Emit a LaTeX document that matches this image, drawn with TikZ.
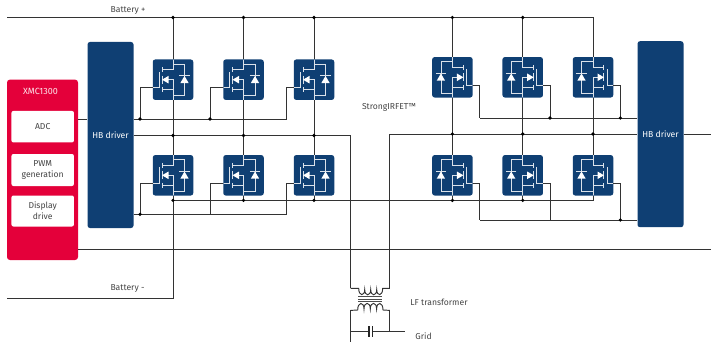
\documentclass[tikz,border=0pt]{standalone}
\usepackage{fontspec}
\setmainfont{Fira Sans}
\usepackage{tikz}
\usetikzlibrary{calc}
\definecolor{ifxblue}{HTML}{0F3F73}
\definecolor{ifxred}{HTML}{E4003A}
\definecolor{labelgray}{HTML}{444444}

\begin{document}
\begin{tikzpicture}[x=1pt, y=-1pt, >=stealth,
        wire/.style={line width=0.95pt, black!80},
        fetbox/.style={draw=none, fill=ifxblue, rounded corners=2.5pt, minimum width=40.5pt, minimum height=40.5pt, inner sep=0pt},
        fetline/.style={line width=0.8pt, white!85!ifxblue},
        drvbox/.style={fill=ifxblue, rounded corners=2.5pt, minimum width=46pt, minimum height=186pt, inner sep=0pt, text=white, font=\fontsize{8.6}{10}\selectfont},
        funcbox/.style={fill=white, rounded corners=2pt, minimum width=62.5pt, text=labelgray, align=center, inner sep=0pt, font=\fontsize{8.6}{11}\selectfont},
        lbl/.style={text=labelgray, inner sep=0pt, font=\fontsize{8.6}{10}\selectfont},
        mirrored/.style={xscale=-1},
        mosfet/.pic={
            \node[fetbox] (box) at (0,0) {};
            \coordinate (gate) at (-20.2,8.2);
            % Drain, source and gate
            \draw[fetline] (0,-20) -- (0,-10) -- (-10.7,-10);
            \draw[fetline] (-10.7,-12.5) -- (-10.7,-7.5);
            \draw[fetline] (-10.7,-4) -- (-10.7,4);
            \draw[fetline] (-10.7,7.5) -- (-10.7,12.5);
            \draw[fetline] (-10.7,10) -- (0,10);
            \draw[fetline] (-5,0) -- (0,0) -- (0,20);
            \draw[fetline] (-20,8.2) -- (-14,8.2) -- (-14,-8);
            \fill[white] (-11,0) -- (-4.5,-3.8) -- (-4.5,3.8) -- cycle;
            % Body diode
            \draw[fetline] (0,-15.7) -- (11.5,-15.7) -- (11.5,16) -- (0,16);
            \draw[fetline] (6.3,-3.8) -- (16.7,-3.8);
            \fill[white] (11.5,-3.8) -- (7.3,3.4) -- (15.7,3.4) -- cycle;
        }]
        \useasboundingbox (0,0) rectangle (711,342);

        % Controller
        \node[fill=ifxred, rounded corners=3pt, minimum width=71pt, minimum height=180.5pt, inner sep=0pt] (XMC) at (42.5,169.8) {};
        \node[text=white!90!ifxred, inner sep=0pt, font=\fontsize{9}{10}\selectfont] (XMCt) at (40.5,91) {XMC1300};
        \node[funcbox, minimum height=31.5pt] (ADC) at (42.7,126.7) {ADC};
        \node[funcbox, minimum height=32pt] (PWM) at (42.7,170) {PWM\\generation};
        \node[funcbox, minimum height=31pt] (DISP) at (42.7,211) {Display\\drive};

        % Drivers
        \node[drvbox] (HBL) at (110.5,135) {HB driver};
        \node[drvbox] (HBR) at (660.5,134.2) {HB driver};

        % Switches
        \pic (Q1) at (173,79.7) {mosfet};
        \pic (Q2) at (243.5,79.7) {mosfet};
        \pic (Q3) at (314,79.7) {mosfet};
        \pic (Q7) at (173,175.3) {mosfet};
        \pic (Q8) at (243.5,175.3) {mosfet};
        \pic (Q9) at (314,175.3) {mosfet};
        \pic[mirrored] (Q4) at (452.4,77.3) {mosfet};
        \pic[mirrored] (Q5) at (522.7,77.3) {mosfet};
        \pic[mirrored] (Q6) at (593,77.3) {mosfet};
        \pic[mirrored] (Q10) at (452.4,175.3) {mosfet};
        \pic[mirrored] (Q11) at (522.7,175.3) {mosfet};
        \pic[mirrored] (Q12) at (593,175.3) {mosfet};

        % Define coordinates
        \coordinate (BatA) at (7,17.5);
        \coordinate (BatB) at (7,298.2);
        \coordinate (GA1) at (140,119);
        \coordinate (GA2) at (210,119);
        \coordinate (GA3) at (286.7,119);
        \coordinate (GB1) at (140,214.3);
        \coordinate (GB2) at (210,214.3);
        \coordinate (GB3) at (286.7,214.3);
        \coordinate (GC1) at (620.3,118);
        \coordinate (GC2) at (550,118);
        \coordinate (GC3) at (479.5,118);
        \coordinate (GD1) at (620.3,220);
        \coordinate (GD2) at (550,220);
        \coordinate (GD3) at (479.5,220);
        \coordinate (MidL) at (350.6,135.5);
        \coordinate (MidR) at (389.8,134);
        \coordinate (Low) at (173,200.4);
        \coordinate (TpL) at (350.6,288.3);
        \coordinate (TpR) at (389.8,288.3);
        \coordinate (TsL) at (350.6,310.4);
        \coordinate (TsR) at (389.8,310.4);
        \coordinate (CapL) at (369,331.7);
        \coordinate (CapR) at (372.3,331.7);
        \coordinate (GridEnd) at (405,331.7);

        % Battery rails
        \draw[wire] (BatA) -- (Q6box.north |- BatA) -- (Q6box.north);
        \draw[wire] (Q1box.north |- BatA) -- (Q1box.north);
        \draw[wire] (Q2box.north |- BatA) -- (Q2box.north);
        \draw[wire] (Q3box.north |- BatA) -- (Q3box.north);
        \draw[wire] (Q4box.north |- BatA) -- (Q4box.north);
        \draw[wire] (Q5box.north |- BatA) -- (Q5box.north);
        \draw[wire] (BatB) -- (Q7box.south |- BatB) -- (Q7box.south);
        \draw[wire] (Low) -- (Q12box.south |- Low) -- (Q12box.south);
        \draw[wire] (Q8box.south) -- (Q8box.south |- Low);
        \draw[wire] (Q9box.south) -- (Q9box.south |- Low);
        \draw[wire] (Q10box.south) -- (Q10box.south |- Low);
        \draw[wire] (Q11box.south) -- (Q11box.south |- Low);

        % Half bridge mid points
        \draw[wire] (Q1box.south) -- (Q7box.north);
        \draw[wire] (Q2box.south) -- (Q8box.north);
        \draw[wire] (Q3box.south) -- (Q9box.north);
        \draw[wire] (Q4box.south) -- (Q10box.north);
        \draw[wire] (Q5box.south) -- (Q11box.north);
        \draw[wire] (Q6box.south) -- (Q12box.north);
        \draw[wire] (HBL.east |- MidL) -- (MidL) -- (TpL);
        \draw[wire] (TpR) -- (MidR) -- (HBR.west |- MidR);
        \draw[wire] (HBR.east |- MidR) -- (711,134);

        % Gate lines
        \draw[wire] (XMC.east |- GA1) -- (HBL.west |- GA1);
        \draw[wire] (HBL.east |- GA1) -- (GA3);
        \draw[wire] (Q1gate) -| (GA1);
        \draw[wire] (Q2gate) -| (GA2);
        \draw[wire] (Q3gate) -| (GA3);
        \draw[wire] (HBL.east |- GB1) -- (GB3);
        \draw[wire] (Q7gate) -| (GB1);
        \draw[wire] (Q8gate) -| (GB2);
        \draw[wire] (Q9gate) -| (GB3);
        \draw[wire] (HBR.west |- GC1) -- (GC3);
        \draw[wire] (Q4gate) -| (GC3);
        \draw[wire] (Q5gate) -| (GC2);
        \draw[wire] (Q6gate) -| (GC1);
        \draw[wire] (HBR.west |- GD1) -- (GD3);
        \draw[wire] (Q10gate) -| (GD3);
        \draw[wire] (Q11gate) -| (GD2);
        \draw[wire] (Q12gate) -| (GD1);

        % Long line under the drivers
        \draw[wire] (XMC.east |- 0,249.6) -- (711,249.6);

        % Transformer
        \draw[wire] (TpL) -- (358.7,288.3)
            .. controls (358.7,296.5) and (364.7,296.5) .. (364.7,289.5)
            .. controls (364.7,296.5) and (370.7,296.5) .. (370.7,289.5)
            .. controls (370.7,296.5) and (376.7,296.5) .. (376.7,289.5)
            .. controls (376.7,296.5) and (382.7,296.5) .. (382.7,288.3) -- (TpR);
        \draw[line width=0.8pt, black!70] (358.3,296.8) -- (382.3,296.8);
        \draw[line width=0.8pt, black!70] (358.3,299.1) -- (382.3,299.1);
        \draw[line width=0.8pt, black!70] (358.3,301.4) -- (382.3,301.4);
        \draw[wire] (TsL) -- (357.7,310)
            .. controls (357.7,301.5) and (364,301.5) .. (364,309)
            .. controls (364,301.5) and (370.3,301.5) .. (370.3,309)
            .. controls (370.3,301.5) and (376.6,301.5) .. (376.6,309)
            .. controls (376.6,301.5) and (383,301.5) .. (383,310) -- (TsR);

        % Grid side
        \draw[wire] (TsL) -- (350.6,342);
        \draw[wire] (TsR) -- (TsR |- CapR);
        \draw[wire] (TsL |- CapL) -- (CapL);
        \draw[wire] (CapR) -- (GridEnd);
        \draw[line width=1.1pt, black!85] ($(CapL)+(0,-5.5)$) -- ($(CapL)+(0,5.5)$);
        \draw[line width=1.1pt, black!85] ($(CapR)+(0,-5.5)$) -- ($(CapR)+(0,5.5)$);

        % Labels
        \node[lbl] (LBatA) at (128,10.5) {Battery +};
        \node[lbl] (LBatB) at (127.5,288) {Battery -};
        \node[lbl] (LFet) at (389,107) {StrongIRFET™};
        \node[lbl] (LTrans) at (439,302) {LF transformer};
        \node[lbl] (LGrid) at (423.5,336) {Grid};

        % Junction dots
        \fill (Q1box.north |- BatA) circle (1.8pt);
        \fill (Q2box.north |- BatA) circle (1.8pt);
        \fill (Q3box.north |- BatA) circle (1.8pt);
        \fill (Q4box.north |- BatA) circle (1.8pt);
        \fill (Q5box.north |- BatA) circle (1.8pt);
        \fill (Q1box.south |- MidL) circle (1.8pt);
        \fill (Q2box.south |- MidL) circle (1.8pt);
        \fill (Q3box.south |- MidL) circle (1.8pt);
        \fill (Q4box.south |- MidR) circle (1.8pt);
        \fill (Q5box.south |- MidR) circle (1.8pt);
        \fill (Q6box.south |- MidR) circle (1.8pt);
        \fill (Low) circle (1.8pt);
        \fill (Q8box.south |- Low) circle (1.8pt);
        \fill (Q9box.south |- Low) circle (1.8pt);
        \fill (Q10box.south |- Low) circle (1.8pt);
        \fill (Q11box.south |- Low) circle (1.8pt);
        \fill (GA1) circle (1.8pt);
        \fill (GA2) circle (1.8pt);
        \fill (GB1) circle (1.8pt);
        \fill (GC1) circle (1.8pt);
        \fill (GC2) circle (1.8pt);
        \fill (GD1) circle (1.8pt);
\end{tikzpicture}
\end{document}
